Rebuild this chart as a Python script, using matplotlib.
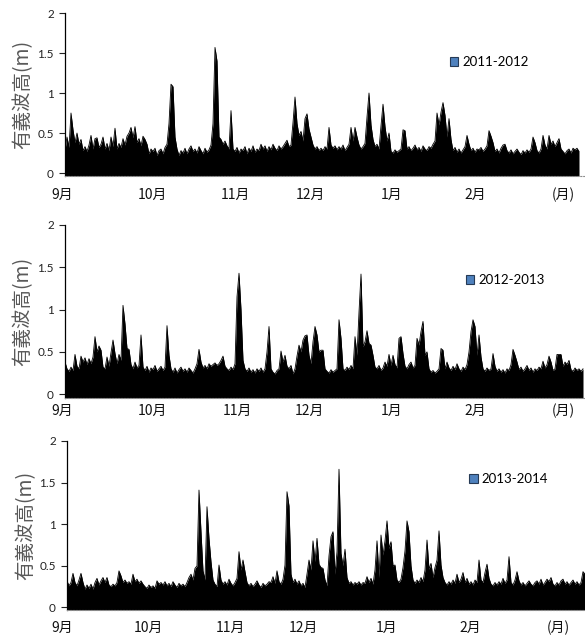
import numpy as np
import matplotlib
matplotlib.use("Agg")
import matplotlib.pyplot as plt
from matplotlib.patches import Patch
from matplotlib.transforms import offset_copy

plt.rcParams["font.family"] = ["Lato", "Noto Sans CJK JP"]

months = ["9月", "10月", "11月", "12月", "1月", "2月", "(月)"]
seasons = ["2011-2012", "2012-2013", "2013-2014"]

# significant wave height (m), one sample per plotted step, Sep -> Feb
hs_2011 = [
    0.29, 0.45, 0.32, 0.75, 0.54, 0.38, 0.50, 0.36, 0.42, 0.28,
    0.33, 0.27, 0.35, 0.47, 0.30, 0.43, 0.44, 0.32, 0.36, 0.45,
    0.30, 0.37, 0.28, 0.45, 0.33, 0.56, 0.30, 0.37, 0.32, 0.43,
    0.35, 0.46, 0.50, 0.57, 0.44, 0.58, 0.38, 0.43, 0.34, 0.46,
    0.42, 0.36, 0.24, 0.30, 0.27, 0.31, 0.22, 0.28, 0.30, 0.24,
    0.32, 0.36, 0.62, 1.11, 1.08, 0.45, 0.30, 0.22, 0.28, 0.25,
    0.31, 0.24, 0.30, 0.34, 0.27, 0.30, 0.25, 0.33, 0.28, 0.24,
    0.31, 0.26, 0.29, 0.35, 0.62, 1.57, 1.40, 0.45, 0.42, 0.36,
    0.40, 0.34, 0.30, 0.78, 0.30, 0.27, 0.32, 0.25, 0.30, 0.28,
    0.33, 0.24, 0.31, 0.27, 0.34, 0.26, 0.30, 0.28, 0.36, 0.30,
    0.34, 0.27, 0.33, 0.29, 0.36, 0.31, 0.28, 0.34, 0.30, 0.33,
    0.37, 0.41, 0.33, 0.35, 0.63, 0.95, 0.62, 0.47, 0.52, 0.40,
    0.68, 0.74, 0.55, 0.45, 0.35, 0.30, 0.33, 0.28, 0.31, 0.28,
    0.33, 0.30, 0.57, 0.35, 0.31, 0.34, 0.29, 0.33, 0.30, 0.35,
    0.28, 0.32, 0.36, 0.57, 0.40, 0.57, 0.45, 0.35, 0.30, 0.33,
    0.37, 0.70, 1.00, 0.60, 0.42, 0.33, 0.36, 0.30, 0.59, 0.86,
    0.58, 0.40, 0.50, 0.27, 0.25, 0.29, 0.26, 0.28, 0.30, 0.54,
    0.53, 0.30, 0.33, 0.28, 0.31, 0.35, 0.29, 0.32, 0.27, 0.34,
    0.30, 0.28, 0.33, 0.31, 0.36, 0.40, 0.75, 0.60, 0.76, 0.88,
    0.72, 0.45, 0.68, 0.42, 0.28, 0.32, 0.26, 0.30, 0.25, 0.29,
    0.33, 0.47, 0.36, 0.28, 0.31, 0.26, 0.30, 0.29, 0.32, 0.27,
    0.30, 0.34, 0.53, 0.46, 0.38, 0.27, 0.30, 0.25, 0.31, 0.35,
    0.36, 0.28, 0.25, 0.29, 0.24, 0.27, 0.30, 0.26, 0.23, 0.28,
    0.25, 0.29, 0.26, 0.30, 0.45, 0.38, 0.28, 0.25, 0.30, 0.47,
    0.35, 0.30, 0.47, 0.36, 0.40, 0.33, 0.38, 0.43, 0.30, 0.27,
    0.24, 0.28, 0.30, 0.25, 0.31, 0.29, 0.31, 0.27,
]

hs_2012 = [
    0.38, 0.30, 0.27, 0.32, 0.28, 0.47, 0.33, 0.30, 0.45, 0.38,
    0.43, 0.35, 0.42, 0.36, 0.44, 0.68, 0.50, 0.57, 0.52, 0.32,
    0.30, 0.44, 0.33, 0.49, 0.64, 0.48, 0.36, 0.47, 0.40, 1.05,
    0.83, 0.54, 0.53, 0.35, 0.30, 0.38, 0.31, 0.34, 0.70, 0.32,
    0.28, 0.33, 0.26, 0.31, 0.29, 0.34, 0.27, 0.30, 0.33, 0.28,
    0.32, 0.81, 0.46, 0.30, 0.26, 0.31, 0.25, 0.29, 0.32, 0.27,
    0.30, 0.26, 0.31, 0.28, 0.25, 0.30, 0.36, 0.53, 0.38, 0.31,
    0.34, 0.30, 0.36, 0.33, 0.35, 0.37, 0.34, 0.36, 0.40, 0.45,
    0.33, 0.30, 0.28, 0.32, 0.29, 0.36, 1.15, 1.43, 1.00, 0.40,
    0.30, 0.27, 0.31, 0.26, 0.29, 0.25, 0.30, 0.27, 0.31, 0.26,
    0.30, 0.50, 0.80, 0.30, 0.26, 0.24, 0.28, 0.30, 0.51, 0.38,
    0.46, 0.33, 0.30, 0.34, 0.24, 0.30, 0.45, 0.58, 0.50, 0.64,
    0.69, 0.70, 0.46, 0.36, 0.62, 0.80, 0.70, 0.50, 0.52, 0.52,
    0.30, 0.27, 0.25, 0.29, 0.26, 0.28, 0.30, 0.88, 0.66, 0.30,
    0.28, 0.32, 0.29, 0.34, 0.30, 0.68, 0.46, 0.97, 1.42, 0.56,
    0.62, 0.75, 0.60, 0.58, 0.46, 0.32, 0.30, 0.34, 0.28, 0.31,
    0.38, 0.33, 0.47, 0.34, 0.46, 0.35, 0.31, 0.66, 0.68, 0.48,
    0.33, 0.30, 0.35, 0.38, 0.31, 0.34, 0.66, 0.58, 0.74, 0.86,
    0.46, 0.50, 0.30, 0.26, 0.28, 0.25, 0.27, 0.30, 0.54, 0.52,
    0.30, 0.38, 0.31, 0.28, 0.33, 0.29, 0.36, 0.30, 0.27, 0.32,
    0.29, 0.35, 0.50, 0.74, 0.88, 0.80, 0.46, 0.70, 0.44, 0.30,
    0.27, 0.31, 0.28, 0.30, 0.48, 0.33, 0.27, 0.30, 0.26, 0.29,
    0.25, 0.30, 0.28, 0.35, 0.53, 0.46, 0.38, 0.29, 0.32, 0.27,
    0.30, 0.34, 0.28, 0.31, 0.26, 0.30, 0.28, 0.32, 0.30, 0.39,
    0.31, 0.35, 0.45, 0.38, 0.28, 0.30, 0.47, 0.47, 0.47, 0.33,
    0.38, 0.35, 0.40, 0.29, 0.27, 0.31, 0.28, 0.30, 0.27, 0.30,
]

hs_2013 = [
    0.32, 0.26, 0.30, 0.41, 0.30, 0.26, 0.33, 0.41, 0.30, 0.22,
    0.27, 0.23, 0.28, 0.22, 0.30, 0.35, 0.27, 0.32, 0.36, 0.30,
    0.36, 0.27, 0.25, 0.28, 0.26, 0.30, 0.44, 0.38, 0.30, 0.33,
    0.29, 0.31, 0.28, 0.40, 0.31, 0.34, 0.29, 0.32, 0.28, 0.25,
    0.23, 0.27, 0.24, 0.26, 0.23, 0.32, 0.28, 0.30, 0.27, 0.31,
    0.26, 0.29, 0.25, 0.31, 0.27, 0.24, 0.29, 0.26, 0.28, 0.25,
    0.30, 0.36, 0.40, 0.33, 0.47, 0.50, 1.41, 0.91, 0.44, 0.33,
    1.21, 0.83, 0.55, 0.33, 0.28, 0.25, 0.51, 0.33, 0.28, 0.31,
    0.27, 0.34, 0.29, 0.26, 0.30, 0.35, 0.67, 0.45, 0.57, 0.43,
    0.30, 0.26, 0.29, 0.25, 0.28, 0.32, 0.27, 0.24, 0.29, 0.26,
    0.28, 0.31, 0.30, 0.37, 0.29, 0.44, 0.31, 0.28, 0.34, 0.51,
    1.39, 1.22, 0.40, 0.30, 0.34, 0.28, 0.32, 0.26, 0.29, 0.24,
    0.40, 0.57, 0.45, 0.80, 0.55, 0.83, 0.52, 0.48, 0.47, 0.33,
    0.26, 0.62, 0.85, 0.91, 0.40, 0.67, 1.66, 0.65, 0.50, 0.70,
    0.36, 0.29, 0.31, 0.27, 0.30, 0.28, 0.31, 0.27, 0.30, 0.29,
    0.37, 0.30, 0.35, 0.28, 0.45, 0.80, 0.36, 0.87, 0.63, 0.80,
    1.04, 0.71, 0.79, 0.50, 0.51, 0.33, 0.30, 0.34, 0.48, 0.68,
    1.04, 0.91, 0.50, 0.33, 0.29, 0.33, 0.30, 0.36, 0.31, 0.45,
    0.81, 0.46, 0.53, 0.36, 0.48, 0.57, 0.92, 0.51, 0.36, 0.30,
    0.27, 0.31, 0.28, 0.33, 0.29, 0.40, 0.30, 0.34, 0.42, 0.30,
    0.35, 0.28, 0.31, 0.27, 0.33, 0.30, 0.57, 0.33, 0.30, 0.42,
    0.52, 0.35, 0.28, 0.26, 0.30, 0.27, 0.31, 0.28, 0.35, 0.29,
    0.33, 0.61, 0.30, 0.27, 0.33, 0.43, 0.32, 0.27, 0.30, 0.26,
    0.29, 0.32, 0.28, 0.26, 0.30, 0.32, 0.28, 0.34, 0.27, 0.30,
    0.34, 0.31, 0.36, 0.28, 0.26, 0.30, 0.27, 0.32, 0.34, 0.28,
    0.31, 0.27, 0.30, 0.33, 0.28, 0.31, 0.27, 0.30, 0.43, 0.40,
]

# where the month labels sit, in sample index units
month_pos_2011 = [-1.5, 43.5, 85, 122.5, 163.5, 205, 249]
month_pos_2012 = [-1.5, 43.5, 86, 122, 163.5, 205, 249]
month_pos_2013 = [-2.5, 40.5, 81.5, 118, 160, 201.5, 245.5]

panels = [
    (hs_2011, month_pos_2011, seasons[0], [0.1111, 0.7254, 0.8889, 0.2543], -0.0375, 260, (0.740, 0.70), 13.5),
    (hs_2012, month_pos_2012, seasons[1], [0.1111, 0.3791, 0.8889, 0.2699], -0.045, 260, (0.771, 0.682), 9.0),
    (hs_2013, month_pos_2013, seasons[2], [0.1145, 0.0484, 0.8855, 0.2637], -0.03, 259, (0.776, 0.775), 13.0),
]

fig = plt.figure(figsize=(5.85, 6.41), dpi=100)

for hs, mpos, season, rect, ymin, xmax, leg_xy, lab_off in panels:
    ax = fig.add_axes(rect)
    x = np.arange(len(hs))
    y = np.array(hs)
    ax.fill_between(x, y, ymin, color="black", lw=0)
    ax.plot(x, y, color="black", lw=0.6)

    ax.set_xlim(0, xmax)
    ax.set_ylim(ymin, 2)
    ax.set_yticks([0, 0.5, 1, 1.5, 2])
    ax.set_yticklabels(["0", "0.5", "1", "1.5", "2"])
    ax.tick_params(axis="y", length=4, width=0.8, pad=4, labelsize=8.5, colors="#222222")
    ax.set_xticks([])

    for side in ["top", "right"]:
        ax.spines[side].set_visible(False)
    ax.spines["left"].set_color("black")
    ax.spines["left"].set_linewidth(0.9)
    ax.spines["bottom"].set_color("#8c8c8c")
    ax.spines["bottom"].set_linewidth(0.8)
    ax.spines["bottom"].set_linestyle(":")

    trans = offset_copy(ax.get_xaxis_transform(), fig=fig, y=-lab_off, units="points")
    for pos, lab in zip(mpos, months):
        ax.text(pos, 0, lab, transform=trans, ha="center", va="center",
                fontsize=10, color="#111111", clip_on=False,
                family=["Noto Sans CJK JP", "DejaVu Sans"])

    ax.set_ylabel("有義波高(m)", fontsize=14, color="#595959",
                  family=["Noto Sans CJK JP", "DejaVu Sans"])
    ax.yaxis.set_label_coords(-0.06, 0.5)

    handle = Patch(facecolor="#4F81BD", edgecolor="#263a55", linewidth=0.8)
    ax.legend([handle], [season], loc="center left", bbox_to_anchor=leg_xy,
              frameon=False, borderpad=0, borderaxespad=0,
              handlelength=0.65, handleheight=0.65, handletextpad=0.3,
              prop={"family": "Lato", "size": 9.5})

fig.savefig("out.png", dpi=100)
